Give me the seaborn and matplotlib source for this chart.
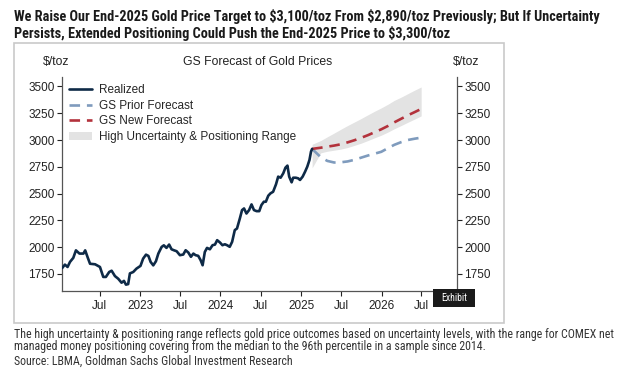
import matplotlib
matplotlib.use("Agg")
import matplotlib.pyplot as plt
import matplotlib.dates as mdates
from matplotlib import font_manager
from matplotlib.patches import Rectangle
import seaborn as sns
import pandas as pd

# realized gold price ($/toz)
realized_dates = [
    "2022-01-13", "2022-01-25", "2022-02-06", "2022-02-17", "2022-03-04", "2022-03-16",
    "2022-04-01", "2022-04-19", "2022-04-27", "2022-05-09", "2022-05-19", "2022-06-11",
    "2022-07-03", "2022-07-18", "2022-07-30", "2022-08-14", "2022-08-25", "2022-09-09",
    "2022-09-24", "2022-10-09", "2022-10-20", "2022-10-29", "2022-11-08", "2022-11-16",
    "2022-12-01", "2022-12-16", "2023-01-03", "2023-01-15", "2023-01-28", "2023-02-08",
    "2023-02-18", "2023-03-02", "2023-03-14", "2023-03-25", "2023-04-09", "2023-04-19",
    "2023-05-01", "2023-05-13", "2023-05-24", "2023-06-05", "2023-06-16", "2023-07-01",
    "2023-07-16", "2023-07-27", "2023-08-08", "2023-08-20", "2023-08-31", "2023-09-10",
    "2023-09-22", "2023-10-03", "2023-10-12", "2023-10-22", "2023-11-01", "2023-11-14",
    "2023-11-26", "2023-12-07", "2023-12-17", "2023-12-30", "2024-01-10", "2024-01-21",
    "2024-01-31", "2024-02-12", "2024-02-23", "2024-03-06", "2024-03-16", "2024-03-29",
    "2024-04-08", "2024-04-17", "2024-04-28", "2024-05-10", "2024-05-21", "2024-06-01",
    "2024-06-13", "2024-06-25", "2024-07-05", "2024-07-16", "2024-07-25", "2024-08-05",
    "2024-08-15", "2024-08-27", "2024-09-09", "2024-09-19", "2024-09-30", "2024-10-12",
    "2024-10-22", "2024-10-31", "2024-11-08", "2024-11-19", "2024-11-26", "2024-12-08",
    "2024-12-19", "2024-12-27", "2025-01-08", "2025-01-19", "2025-01-29", "2025-02-08",
    "2025-02-15", "2025-02-20",
]
realized = [
    1806, 1837, 1815, 1862, 1900, 1970,
    1940, 1940, 1970, 1900, 1845, 1840,
    1815, 1722, 1722, 1768, 1780, 1730,
    1705, 1668, 1685, 1650, 1655, 1755,
    1768, 1800, 1825, 1893, 1930, 1918,
    1862, 1830, 1868, 1940, 2002, 2017,
    1993, 2024, 1980, 1970, 1962, 1925,
    1931, 1971, 1950, 1910, 1940, 1925,
    1919, 1878, 1831, 1955, 1993, 1980,
    2018, 2024, 2065, 2043, 2018, 2027,
    2018, 2003, 2050, 2159, 2174, 2268,
    2346, 2361, 2314, 2346, 2399, 2346,
    2336, 2336, 2393, 2424, 2424, 2480,
    2502, 2517, 2586, 2658, 2648, 2689,
    2742, 2761, 2658, 2605, 2648, 2648,
    2642, 2627, 2658, 2704, 2751, 2814,
    2892, 2917,
]

# forecasts and range
fc_dates = [
    "2025-02-20", "2025-03-31", "2025-04-30", "2025-05-31", "2025-06-30", "2025-07-31",
    "2025-08-31", "2025-09-30", "2025-10-31", "2025-11-30", "2025-12-31", "2026-01-31",
    "2026-02-28", "2026-03-31", "2026-04-30", "2026-05-31", "2026-06-30",
]
prior_fc = [2917, 2840, 2805, 2790, 2792, 2800, 2815, 2835, 2855, 2872, 2890,
            2925, 2955, 2980, 3000, 3012, 3022]
new_fc = [2917, 2928, 2938, 2948, 2960, 2978, 2998, 3020, 3045, 3072, 3100,
          3132, 3165, 3198, 3230, 3260, 3290]
range_hi = [2960, 2995, 3030, 3065, 3100, 3135, 3168, 3200, 3235, 3268, 3300,
            3335, 3370, 3400, 3432, 3465, 3495]
range_lo = [2740, 2880, 2895, 2905, 2915, 2930, 2950, 2970, 2995, 3020, 3045,
            3075, 3105, 3135, 3165, 3195, 3225]

y_ticks = [1750, 2000, 2250, 2500, 2750, 3000, 3250, 3500]

df_real = pd.DataFrame({"date": pd.to_datetime(realized_dates), "price": realized})
df_fc = pd.DataFrame({"date": pd.to_datetime(fc_dates), "prior": prior_fc, "new": new_fc,
                      "hi": range_hi, "lo": range_lo})

sns.set_theme(style="ticks")
plt.rcParams["font.family"] = ["Liberation Sans", "DejaVu Sans"]

# pick a condensed face if one is installed, else plain Liberation Sans
installed = {f.name for f in font_manager.fontManager.ttflist}
narrow = "Liberation Sans"
for name in ["Liberation Sans Narrow", "Roboto Condensed", "Open Sans Condensed",
             "Noto Sans Condensed", "DejaVu Sans Condensed"]:
    if name in installed:
        narrow = name
        break

fig = plt.figure(figsize=(6.24, 3.84), dpi=100)
fig.patches.append(Rectangle((0.0224, 0.159), 0.785, 0.729, transform=fig.transFigure,
                             facecolor="white", edgecolor="#c9c9c9", lw=1.2, zorder=-5))
ax = fig.add_axes([0.0998, 0.242, 0.632, 0.558])
ax.set_facecolor("none")

band = ax.fill_between(df_fc["date"], df_fc["lo"], df_fc["hi"], color="#e3e3e3", lw=0,
                       label="High Uncertainty & Positioning Range", zorder=1)
sns.lineplot(data=df_real, x="date", y="price", ax=ax, color="#0e2a47", lw=1.9,
             label="Realized", zorder=3)
sns.lineplot(data=df_fc, x="date", y="prior", ax=ax, color="#7f9bbd", lw=1.9,
             linestyle=(0, (4, 2.6)), label="GS Prior Forecast", zorder=2)
sns.lineplot(data=df_fc, x="date", y="new", ax=ax, color="#b3323c", lw=1.9,
             linestyle=(0, (4, 2.6)), label="GS New Forecast", zorder=2)

ax.set_xlim(pd.Timestamp("2022-01-13"), pd.Timestamp("2026-12-08"))
ax.set_ylim(1590, 3590)
ax.set_yticks(y_ticks)
ax.set_xlabel("")
ax.set_ylabel("")

ax.xaxis.set_major_locator(mdates.MonthLocator(bymonth=[1, 7]))
ax.xaxis.set_major_formatter(
    plt.FuncFormatter(lambda v, p: "Jul" if mdates.num2date(v).month == 7 else str(mdates.num2date(v).year)))

for s in ["left", "right", "bottom"]:
    ax.spines[s].set_color("#555555")
    ax.spines[s].set_linewidth(0.9)
ax.spines["top"].set_visible(False)
ax.spines["right"].set_visible(True)
ax.yaxis.set_ticks_position("both")
ax.tick_params(axis="y", labelright=True, labelsize=8.5, colors="#222222", length=3.5,
               width=0.8, pad=2, direction="out")
ax.tick_params(axis="x", labelsize=8.5, colors="#222222", length=3.5, width=0.8, pad=3)

handles, labels = ax.get_legend_handles_labels()
order = ["Realized", "GS Prior Forecast", "GS New Forecast", "High Uncertainty & Positioning Range"]
hmap = dict(zip(labels, handles))
ax.legend([hmap[k] for k in order], order, loc="upper left", frameon=False, fontsize=8.5,
          handlelength=1.95, handletextpad=0.6, labelspacing=0.32, borderaxespad=0.2,
          borderpad=0.4, bbox_to_anchor=(0.0, 1.0))

fig.text(0.413, 0.838, "GS Forecast of Gold Prices", ha="center", va="center", fontsize=8.8,
         color="#222222")
fig.text(0.068, 0.838, r"\$/toz", ha="left", va="center", fontsize=8.8, color="#222222")
fig.text(0.726, 0.838, r"\$/toz", ha="left", va="center", fontsize=8.8, color="#222222")

fig.patches.append(Rectangle((0.694, 0.2005), 0.067, 0.047, transform=fig.transFigure,
                             facecolor="#1a1a1a", edgecolor="none", zorder=5))
fig.text(0.7275, 0.224, "Exhibit", ha="center", va="center", fontsize=7, color="white",
         family=narrow, zorder=6)

title1 = fig.text(0.022, 0.958, r"We Raise Our End-2025 Gold Price Target to \$3,100/toz From "
                  r"\$2,890/toz Previously; But If Uncertainty", ha="left", va="center",
                  fontsize=10, fontweight="bold", family=narrow, color="#1a1a1a")
title2 = fig.text(0.022, 0.912, r"Persists, Extended Positioning Could Push the End-2025 Price "
                  r"to \$3,300/toz", ha="left", va="center", fontsize=10, fontweight="bold",
                  family=narrow, color="#1a1a1a")

note1 = fig.text(0.022, 0.128, "The high uncertainty & positioning range reflects gold price "
                 "outcomes based on uncertainty levels, with the range for COMEX net",
                 ha="left", va="center", fontsize=8.5, family=narrow, color="#333333")
note2 = fig.text(0.022, 0.097, "managed money positioning covering from the median to the 96th "
                 "percentile in a sample since 2014.", ha="left", va="center", fontsize=8.5,
                 family=narrow, color="#333333")
note3 = fig.text(0.022, 0.058, "Source: LBMA, Goldman Sachs Global Investment Research",
                 ha="left", va="center", fontsize=8.5, family=narrow, color="#333333")

# scale the long header/footer lines to the widths they take in the chart
renderer = fig.canvas.get_renderer()
for lead, others, width_px in [(title1, [title2], 588), (note1, [note2, note3], 600)]:
    w = lead.get_window_extent(renderer).width
    size = lead.get_fontsize() * width_px / w
    for t in [lead] + others:
        t.set_fontsize(size)

fig.savefig("out.png", dpi=100)
